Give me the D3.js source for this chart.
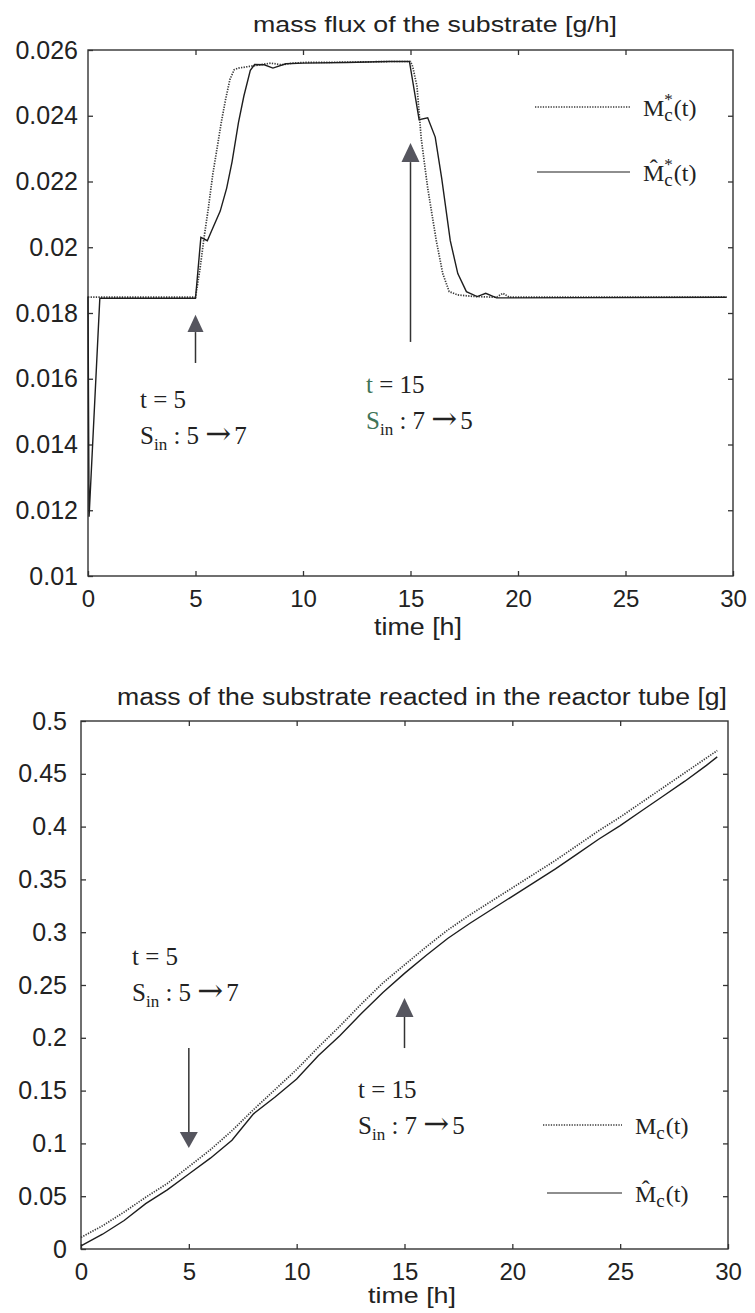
<!DOCTYPE html>
<html lang="en">
<head>
<meta charset="UTF-8">
<title>mass flux / mass of the substrate</title>
<script src="https://d3js.org/d3.v7.min.js"></script>
<style>
  body { margin: 0; background: #fff; }
  .tick text { font-family: "Liberation Sans", Arial, sans-serif; font-size: 25px; fill: #222; }
  .tick line { stroke: #333; stroke-width: 1.3; }
  .lbl { font-family: "Liberation Sans", Arial, sans-serif; fill: #222; }
  .ann { font-family: "Liberation Serif", "Times New Roman", serif; fill: #222; }
</style>
</head>
<body>
<div id="chart"></div>
<script>
// ---- top panel: mass flux of the substrate [g/h] ----
const fluxTrueT = [0, 5.0, 5.2, 5.4, 5.6, 5.8, 6.0, 6.2, 6.4, 6.6, 6.8, 7.0, 7.5, 8.0, 8.5, 9.0, 9.5, 10, 12, 14, 15.0,
                   15.1, 15.3, 15.5, 15.8, 16.2, 16.5, 16.8, 17.2, 18.0, 19.0, 19.3, 19.6, 29.7];
const fluxTrue  = [0.01848, 0.01848, 0.0193, 0.0203, 0.0212, 0.0222, 0.0230, 0.0238, 0.0245, 0.0251, 0.0254, 0.02545,
                   0.0255, 0.02555, 0.0256, 0.02555, 0.0256, 0.02562, 0.02563, 0.02565, 0.02565,
                   0.0255, 0.0249, 0.0233, 0.0218, 0.0202, 0.0192, 0.01865, 0.01855, 0.0185, 0.01848, 0.0186, 0.01848, 0.01848];
const fluxEstT  = [0, 0.05, 0.55, 5.0, 5.25, 5.55, 5.75, 6.15, 6.45, 6.7, 7.0, 7.25, 7.55, 7.75, 8.2, 8.6, 9.2, 10, 12, 14, 14.95,
                   15.4, 15.8, 16.15, 16.45, 16.85, 17.2, 17.6, 18.1, 18.5, 19.0, 29.7];
const fluxEst   = [0.0185, 0.0118, 0.01845, 0.01845, 0.0203, 0.0202, 0.0205, 0.0211, 0.0218, 0.0226, 0.0238, 0.0246,
                   0.02538, 0.02556, 0.02555, 0.02545, 0.02558, 0.0256, 0.02562, 0.02565, 0.02565,
                   0.02388, 0.02394, 0.02335, 0.0221, 0.0202, 0.0192, 0.01865, 0.0185, 0.0186, 0.01846, 0.01848];
const fluxXTicks = [0, 5, 10, 15, 20, 25, 30];
const fluxYTicks = [0.01, 0.012, 0.014, 0.016, 0.018, 0.02, 0.022, 0.024, 0.026];

// ---- bottom panel: mass of the substrate reacted in the reactor tube [g] ----
const massT    = [0, 1, 2, 3, 4, 5, 6, 7, 8, 9, 10, 11, 12, 13, 14, 15, 16, 17, 18, 19, 20, 21, 22, 23, 24, 25, 26, 27, 28, 29, 29.5];
const massTrue = [0.011, 0.022, 0.035, 0.049, 0.062, 0.078, 0.094, 0.112, 0.132, 0.151, 0.170, 0.191, 0.211, 0.232, 0.252,
                  0.269, 0.286, 0.302, 0.316, 0.329, 0.342, 0.355, 0.368, 0.382, 0.396, 0.409, 0.423, 0.437, 0.451, 0.465, 0.472];
const massEst  = [0.003, 0.014, 0.027, 0.043, 0.056, 0.071, 0.086, 0.103, 0.128, 0.144, 0.161, 0.183, 0.202, 0.223, 0.243,
                  0.261, 0.278, 0.294, 0.308, 0.321, 0.334, 0.347, 0.360, 0.374, 0.388, 0.401, 0.415, 0.429, 0.443, 0.458, 0.466];
const massXTicks = [0, 5, 10, 15, 20, 25, 30];
const massYTicks = [0, 0.05, 0.1, 0.15, 0.2, 0.25, 0.3, 0.35, 0.4, 0.45, 0.5];

const svg = d3.select("#chart").append("svg")
    .attr("width", 755)
    .attr("height", 1313);

const dotted = { stroke: "#3a3a3a", width: 1.7, dash: "1.3,1.3" };
const solid = { stroke: "#1e1e1e", width: 1.4, dash: null };

function panel(x, y, xTicks, yTicks, xPad, yPad) {
    const [x0, x1] = x.range(), [y0, y1] = y.range();
    const g = svg.append("g");

    g.append("g").attr("transform", `translate(0,${y0})`)
        .call(d3.axisBottom(x).tickValues(xTicks).tickSize(-5).tickPadding(xPad).tickFormat(d3.format("")))
        .call(a => a.select(".domain").remove())
        .call(a => a.selectAll(".tick text").style("font-size", "24px"));
    g.append("g").attr("transform", `translate(0,${y1})`)
        .call(d3.axisTop(x).tickValues(xTicks.slice(1, -1)).tickSize(-5).tickFormat(""))
        .call(a => a.select(".domain").remove());
    g.append("g").attr("transform", `translate(${x0},0)`)
        .call(d3.axisLeft(y).tickValues(yTicks).tickSize(-5).tickPadding(yPad).tickFormat(d => d3.format("")(+d.toFixed(3))))
        .call(a => a.select(".domain").remove());
    g.append("g").attr("transform", `translate(${x1},0)`)
        .call(d3.axisRight(y).tickValues(yTicks.slice(1, -1)).tickSize(-5).tickFormat(""))
        .call(a => a.select(".domain").remove());

    g.append("rect")
        .attr("x", x0).attr("y", y1)
        .attr("width", x1 - x0).attr("height", y0 - y1)
        .attr("fill", "none").attr("stroke", "#333").attr("stroke-width", 1.4);
    return g;
}

function curve(g, x, y, ts, vs, style) {
    g.append("path")
        .datum(ts.map((t, i) => [t, vs[i]]))
        .attr("fill", "none")
        .attr("stroke", style.stroke)
        .attr("stroke-width", style.width)
        .attr("stroke-dasharray", style.dash)
        .attr("d", d3.line().x(d => x(d[0])).y(d => y(d[1])));
}

// arrow: shaft from tail to base of triangle, triangle tip at tip
function arrow(g, px, yTail, yBase, yTip, half) {
    g.append("line").attr("x1", px).attr("x2", px).attr("y1", yTail).attr("y2", yBase)
        .attr("stroke", "#333").attr("stroke-width", 1.5);
    g.append("path")
        .attr("d", `M${px - half},${yBase}L${px + half},${yBase}L${px},${yTip}Z`)
        .attr("fill", "#55555e");
}

function sinLabel(g, px, py, a, b, c, green) {
    const t1 = g.append("text").attr("class", "ann").attr("x", px).attr("y", py).style("font-size", "25px");
    t1.append("tspan").text("t").attr("fill", green ? "#3f7458" : "#222");
    t1.append("tspan").text(" = " + a);
    const t2 = g.append("text").attr("class", "ann").attr("x", px).attr("y", py + 36).style("font-size", "25px");
    t2.append("tspan").text("S").attr("fill", green ? "#3f7458" : "#222");
    t2.append("tspan").text("in").attr("dy", 6).style("font-size", "17px");
    t2.append("tspan").text(" : " + b + " ").attr("dy", -6);
    t2.append("tspan").text("\u2192").style("font-family", "'DejaVu Serif', serif").style("font-size", "31px");
    t2.append("tspan").text(c).attr("dx", 3);
}

function legendItem(g, xa, xb, ly, style, hat, star) {
    g.append("line").attr("x1", xa).attr("x2", xb).attr("y1", ly).attr("y2", ly)
        .attr("stroke", style.stroke).attr("stroke-width", style.width - 0.2)
        .attr("stroke-dasharray", style.dash);
    const t = g.append("text").attr("class", "ann").attr("x", xb + 13).attr("y", ly + 9).style("font-size", "24px");
    t.append("tspan").text(hat ? "M\u0302" : "M");
    t.append("tspan").text("c").attr("dy", 5).style("font-size", "19px");
    if (star) {
        t.append("tspan").text("*").attr("dx", -8.5).attr("dy", -16).style("font-size", "17px");
        t.append("tspan").text("(t)").attr("dx", 1).attr("dy", 11);
    } else {
        t.append("tspan").text("(t)").attr("dx", 1).attr("dy", -5);
    }
}

// ---------- top panel ----------
const xf = d3.scaleLinear().domain([0, 30]).range([88, 733]);
const yf = d3.scaleLinear().domain([0.01, 0.026]).range([576, 50]);
const gTop = panel(xf, yf, fluxXTicks, fluxYTicks, 14, 10);
curve(gTop, xf, yf, fluxTrueT, fluxTrue, dotted);
curve(gTop, xf, yf, fluxEstT, fluxEst, solid);

svg.append("text").attr("class", "lbl").attr("x", 253).attr("y", 32)
    .attr("textLength", 364).attr("lengthAdjust", "spacingAndGlyphs")
    .style("font-size", "22px").text("mass flux of the substrate [g/h]");
svg.append("text").attr("class", "lbl").attr("x", 374).attr("y", 635)
    .attr("textLength", 88).attr("lengthAdjust", "spacingAndGlyphs")
    .style("font-size", "23px").text("time [h]");

arrow(gTop, xf(5), yf(0.01648), yf(0.01742), yf(0.01795), 8);
arrow(gTop, xf(15), yf(0.01712), yf(0.02259), yf(0.02317), 9);
sinLabel(gTop, 140, 408, "5", "5", "7", false);
sinLabel(gTop, 366, 393, "15", "7", "5", true);
legendItem(gTop, 535, 630, 107, dotted, false, true);
legendItem(gTop, 537, 630, 172, solid, true, true);

// ---------- bottom panel ----------
const xm = d3.scaleLinear().domain([0, 30]).range([81, 728]);
const ym = d3.scaleLinear().domain([0, 0.5]).range([1249, 721]);
const gBot = panel(xm, ym, massXTicks, massYTicks, 14, 14);
curve(gBot, xm, ym, massT, massTrue, dotted);
curve(gBot, xm, ym, massT, massEst, solid);

svg.append("text").attr("class", "lbl").attr("x", 117).attr("y", 705)
    .attr("textLength", 610).attr("lengthAdjust", "spacingAndGlyphs")
    .style("font-size", "23px").text("mass of the substrate reacted in the reactor tube [g]");
svg.append("text").attr("class", "lbl").attr("x", 368).attr("y", 1303)
    .attr("textLength", 88).attr("lengthAdjust", "spacingAndGlyphs")
    .style("font-size", "22px").text("time [h]");

arrow(gBot, xm(5), ym(0.1903), ym(0.1108), ym(0.0956), 9);
arrow(gBot, xm(15), ym(0.1903), ym(0.2197), ym(0.2377), 9);
sinLabel(gBot, 132, 965, "5", "5", "7", false);
sinLabel(gBot, 358, 1098, "15", "7", "5", false);
legendItem(gBot, 543, 622, 1125, dotted, false, false);
legendItem(gBot, 547, 622, 1193, solid, true, false);
</script>
</body>
</html>
